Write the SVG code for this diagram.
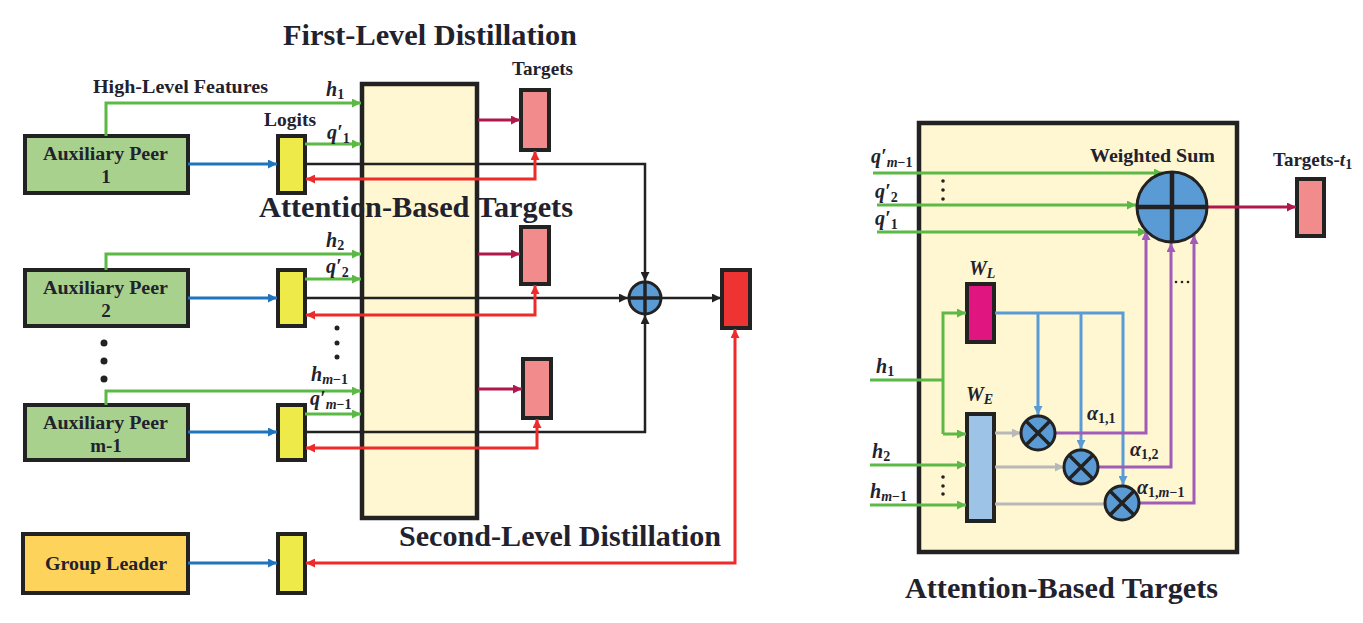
<svg xmlns="http://www.w3.org/2000/svg" width="1363" height="623" viewBox="0 0 1363 623">
<style>
.t{font-family:'Liberation Serif','DejaVu Serif',serif;font-weight:bold;fill:#22222e}
.m{font-family:'Liberation Serif','DejaVu Serif',serif;font-weight:bold;font-style:italic;fill:#22222e}
.s{font-style:normal}
.box{stroke:#222;stroke-width:4}
.g{fill:none;stroke:#5cb946;stroke-width:3}
.b{fill:none;stroke:#1f74bd;stroke-width:3}
.k{fill:none;stroke:#222;stroke-width:2.5}
.r{fill:none;stroke:#ee2a2a;stroke-width:3}
.c{fill:none;stroke:#b0174a;stroke-width:3}
.p{fill:none;stroke:#a05cb8;stroke-width:3}
.lb{fill:none;stroke:#5b9bd5;stroke-width:3}
.gr{fill:none;stroke:#b8b8b8;stroke-width:3}
.peer{fill:#a9d18e}
.logit{fill:#eeea4a}
.tgt{fill:#f28b8b}
.pan{fill:#fff7d1;stroke:#222;stroke-width:4.5}
.op{fill:#5b9bd5;stroke:#222;stroke-width:3}
.cr{stroke:#222;stroke-width:3.5;fill:none}
</style>
<defs>
<marker id="ag" viewBox="0 0 10 10" refX="10" refY="5" markerWidth="11" markerHeight="9" markerUnits="userSpaceOnUse" orient="auto"><path d="M0,0 L10,5 L0,10 z" fill="#5cb946"/></marker>
<marker id="ab" viewBox="0 0 10 10" refX="10" refY="5" markerWidth="11" markerHeight="9" markerUnits="userSpaceOnUse" orient="auto"><path d="M0,0 L10,5 L0,10 z" fill="#1f74bd"/></marker>
<marker id="ak" viewBox="0 0 10 10" refX="10" refY="5" markerWidth="11" markerHeight="9" markerUnits="userSpaceOnUse" orient="auto"><path d="M0,0 L10,5 L0,10 z" fill="#222"/></marker>
<marker id="ar" viewBox="0 0 10 10" refX="10" refY="5" markerWidth="11" markerHeight="9" markerUnits="userSpaceOnUse" orient="auto-start-reverse"><path d="M0,0 L10,5 L0,10 z" fill="#ee2a2a"/></marker>
<marker id="ac" viewBox="0 0 10 10" refX="10" refY="5" markerWidth="11" markerHeight="9" markerUnits="userSpaceOnUse" orient="auto"><path d="M0,0 L10,5 L0,10 z" fill="#b0174a"/></marker>
<marker id="ap" viewBox="0 0 10 10" refX="10" refY="5" markerWidth="11" markerHeight="9" markerUnits="userSpaceOnUse" orient="auto"><path d="M0,0 L10,5 L0,10 z" fill="#a05cb8"/></marker>
<marker id="al" viewBox="0 0 10 10" refX="10" refY="5" markerWidth="11" markerHeight="9" markerUnits="userSpaceOnUse" orient="auto"><path d="M0,0 L10,5 L0,10 z" fill="#5b9bd5"/></marker>
<marker id="ay" viewBox="0 0 10 10" refX="10" refY="5" markerWidth="11" markerHeight="9" markerUnits="userSpaceOnUse" orient="auto"><path d="M0,0 L10,5 L0,10 z" fill="#b8b8b8"/></marker>
</defs>

<g id="fld">
<rect class="pan" x="362" y="84" width="115" height="434"/>
</g>

<text class="t" x="283" y="45" font-size="29.5" textLength="294" lengthAdjust="spacingAndGlyphs">First-Level Distillation</text>
<text class="t" x="512" y="75" font-size="18.5" textLength="61" lengthAdjust="spacingAndGlyphs">Targets</text>
<text class="t" x="93" y="93" font-size="18" textLength="175" lengthAdjust="spacingAndGlyphs">High-Level Features</text>
<text class="t" x="264" y="126" font-size="19" textLength="52" lengthAdjust="spacingAndGlyphs">Logits</text>

<g id="peer1"><rect class="box peer" x="25" y="136" width="163" height="57"/>
<text class="t" x="43" y="160" font-size="19" textLength="125" lengthAdjust="spacingAndGlyphs">Auxiliary Peer</text>
<text class="t" x="106" y="183" font-size="19" text-anchor="middle">1</text></g>
<g id="peer2"><rect class="box peer" x="25" y="270" width="163" height="56"/>
<text class="t" x="43" y="294" font-size="19" textLength="125" lengthAdjust="spacingAndGlyphs">Auxiliary Peer</text>
<text class="t" x="106" y="317" font-size="19" text-anchor="middle">2</text></g>
<g id="peerm"><rect class="box peer" x="25" y="405" width="163" height="55"/>
<text class="t" x="43" y="429" font-size="19" textLength="125" lengthAdjust="spacingAndGlyphs">Auxiliary Peer</text>
<text class="t" x="106" y="452" font-size="19" text-anchor="middle">m-1</text></g>
<g id="leader"><rect class="box" fill="#fdd35c" x="23" y="534" width="165" height="59"/>
<text class="t" x="45" y="570" font-size="19" textLength="122" lengthAdjust="spacingAndGlyphs">Group Leader</text></g>

<g id="logit1"><rect class="box logit" x="278" y="136" width="27" height="57"/></g>
<g id="logit2"><rect class="box logit" x="278" y="270" width="27" height="56"/></g>
<g id="logitm"><rect class="box logit" x="278" y="405" width="27" height="55"/></g>
<g id="logitg"><rect class="box logit" x="278" y="534" width="27" height="59"/></g>

<g id="target1"><rect class="box tgt" x="521" y="90" width="28" height="60"/></g>
<g id="target2"><rect class="box tgt" x="521" y="227" width="28" height="57"/></g>
<g id="target3"><rect class="box tgt" x="523" y="359" width="28" height="59"/></g>
<g id="final"><rect class="box" fill="#ee3333" x="722" y="270" width="28" height="58"/></g>

<g id="sum"><circle class="op" cx="645" cy="298" r="16"/>
<path class="cr" d="M629,298 H661 M645,282 V314"/></g>

<g fill="#222">
<circle cx="104" cy="343" r="3.5"/><circle cx="104" cy="361" r="3.5"/><circle cx="104" cy="379" r="3.5"/>
<circle cx="337" cy="328" r="2.5"/><circle cx="337" cy="343" r="2.5"/><circle cx="337" cy="357" r="2.5"/>
</g>

<g id="connectors">
<path class="g" d="M106,136 V103 H361" marker-end="url(#ag)"/>
<path class="g" d="M305,144 H361" marker-end="url(#ag)"/>
<path class="g" d="M106,270 V254 H361" marker-end="url(#ag)"/>
<path class="g" d="M305,279 H361" marker-end="url(#ag)"/>
<path class="g" d="M106,405 V391 H361" marker-end="url(#ag)"/>
<path class="g" d="M305,414 H361" marker-end="url(#ag)"/>
<path class="b" d="M188,164 H277" marker-end="url(#ab)"/>
<path class="b" d="M188,298 H277" marker-end="url(#ab)"/>
<path class="b" d="M188,432 H277" marker-end="url(#ab)"/>
<path class="b" d="M188,563 H277" marker-end="url(#ab)"/>
<path class="k" d="M305,164 H645 V281" marker-end="url(#ak)"/>
<path class="k" d="M305,298 H628" marker-end="url(#ak)"/>
<path class="k" d="M305,432 H645 V315" marker-end="url(#ak)"/>
<path class="k" d="M661,298 H721" marker-end="url(#ak)"/>
<path class="r" d="M306,179 H535 V151" marker-start="url(#ar)" marker-end="url(#ar)"/>
<path class="r" d="M306,315 H535 V285" marker-start="url(#ar)" marker-end="url(#ar)"/>
<path class="r" d="M306,448 H537 V419" marker-start="url(#ar)" marker-end="url(#ar)"/>
<path class="r" d="M306,563 H735 V329" marker-start="url(#ar)" marker-end="url(#ar)"/>
<path class="c" d="M478,120 H520" marker-end="url(#ac)"/>
<path class="c" d="M478,254 H520" marker-end="url(#ac)"/>
<path class="c" d="M478,389 H522" marker-end="url(#ac)"/>
</g>

<text class="m" x="326" y="96" font-size="20">h<tspan class="s" font-size="14" dy="3">1</tspan></text>
<text class="m" x="327" y="139" font-size="20">q′<tspan class="s" font-size="14" dy="4">1</tspan></text>
<text class="m" x="326" y="247" font-size="20">h<tspan class="s" font-size="14" dy="3">2</tspan></text>
<text class="m" x="326" y="273" font-size="20">q′<tspan class="s" font-size="14" dy="4">2</tspan></text>
<text class="m" x="311" y="381" font-size="20">h<tspan font-size="14" dy="3">m</tspan><tspan class="s" font-size="14">−1</tspan></text>
<text class="m" x="310" y="405" font-size="20">q′<tspan font-size="14" dy="4">m</tspan><tspan class="s" font-size="14">−1</tspan></text>

<text class="t" x="259" y="217" font-size="29.5" textLength="314" lengthAdjust="spacingAndGlyphs">Attention-Based Targets</text>
<text class="t" x="399" y="546" font-size="29.5" textLength="322" lengthAdjust="spacingAndGlyphs">Second-Level Distillation</text>

<g id="attn"><rect class="pan" x="919" y="123" width="318" height="429"/></g>

<g id="wl"><rect class="box" fill="#e0157f" x="967" y="284" width="27" height="58"/></g>
<g id="we"><rect class="box" fill="#9dc3e6" x="967" y="414" width="27" height="107"/></g>
<g id="target-t1"><rect class="box tgt" x="1297" y="179" width="27" height="57"/></g>

<g id="connectors-right">
<path class="g" d="M873,173 H1163" marker-end="url(#ag)"/>
<path class="g" d="M877,205 H1136" marker-end="url(#ag)"/>
<path class="g" d="M877,232 H1147" marker-end="url(#ag)"/>
<path class="g" d="M870,380 H943"/>
<path class="g" d="M943,434 V313 H966" marker-end="url(#ag)"/>
<path class="g" d="M943,434 H966" marker-end="url(#ag)"/>
<path class="g" d="M870,465 H966" marker-end="url(#ag)"/>
<path class="g" d="M870,505 H966" marker-end="url(#ag)"/>
<path class="lb" d="M995,313 H1123 V485" marker-end="url(#al)"/>
<path class="lb" d="M1038,313 V415" marker-end="url(#al)"/>
<path class="lb" d="M1081,313 V449" marker-end="url(#al)"/>
<path class="gr" d="M995,433 H1021" marker-end="url(#ay)"/>
<path class="gr" d="M995,467 H1064" marker-end="url(#ay)"/>
<path class="gr" d="M995,504 H1106"/>
<path class="p" d="M1055,433 H1146 V231" marker-end="url(#ap)"/>
<path class="p" d="M1098,467 H1171 V243" marker-end="url(#ap)"/>
<path class="p" d="M1139,503 H1194 V235" marker-end="url(#ap)"/>
<path class="c" d="M1207,207 H1296" marker-end="url(#ac)"/>
</g>

<g id="wsum"><circle class="op" cx="1172" cy="207" r="35"/>
<path d="M1137,207 H1207 M1172,172 V242" stroke="#222" stroke-width="4.5"/></g>
<g id="m1"><circle class="op" cx="1038" cy="433" r="17"/><path class="cr" d="M1026,421 L1050,445 M1050,421 L1026,445" stroke-width="3"/></g>
<g id="m2"><circle class="op" cx="1081" cy="467" r="17"/><path class="cr" d="M1069,455 L1093,479 M1093,455 L1069,479" stroke-width="3"/></g>
<g id="m3"><circle class="op" cx="1122" cy="503" r="17"/><path class="cr" d="M1110,491 L1134,515 M1134,491 L1110,515" stroke-width="3"/></g>

<g fill="#222">
<circle cx="943" cy="181" r="1.8"/><circle cx="943" cy="190" r="1.8"/><circle cx="943" cy="199" r="1.8"/>
<circle cx="943" cy="477" r="1.8"/><circle cx="943" cy="486" r="1.8"/><circle cx="943" cy="494" r="1.8"/>
<circle cx="1176" cy="282" r="1.3"/><circle cx="1182" cy="282" r="1.3"/><circle cx="1188" cy="282" r="1.3"/>
</g>

<text class="t" x="1090" y="162" font-size="19" textLength="125" lengthAdjust="spacingAndGlyphs">Weighted Sum</text>
<text class="t" x="1273" y="166" font-size="19">Targets-<tspan class="m">t</tspan><tspan font-size="14" dy="3">1</tspan></text>
<text class="m" x="871" y="163" font-size="20">q′<tspan font-size="14" dy="4">m</tspan><tspan class="s" font-size="14">−1</tspan></text>
<text class="m" x="875" y="198" font-size="20">q′<tspan class="s" font-size="14" dy="4">2</tspan></text>
<text class="m" x="875" y="225" font-size="20">q′<tspan class="s" font-size="14" dy="4">1</tspan></text>
<text class="m" x="969" y="275" font-size="20">W<tspan font-size="14" dy="3">L</tspan></text>
<text class="m" x="966" y="401" font-size="20">W<tspan font-size="14" dy="3">E</tspan></text>
<text class="m" x="876" y="373" font-size="20">h<tspan class="s" font-size="14" dy="3">1</tspan></text>
<text class="m" x="872" y="458" font-size="20">h<tspan class="s" font-size="14" dy="3">2</tspan></text>
<text class="m" x="870" y="498" font-size="20">h<tspan font-size="14" dy="3">m</tspan><tspan class="s" font-size="14">−1</tspan></text>
<text class="m" x="1087" y="420" font-size="20">α<tspan class="s" font-size="14" dy="3">1,1</tspan></text>
<text class="m" x="1130" y="456" font-size="20">α<tspan class="s" font-size="14" dy="3">1,2</tspan></text>
<text class="m" x="1137" y="494" font-size="20">α<tspan class="s" font-size="14" dy="3">1,</tspan><tspan font-size="14">m</tspan><tspan class="s" font-size="14">−1</tspan></text>
<text class="t" x="905" y="598" font-size="29.5" textLength="313" lengthAdjust="spacingAndGlyphs">Attention-Based Targets</text>
</svg>
